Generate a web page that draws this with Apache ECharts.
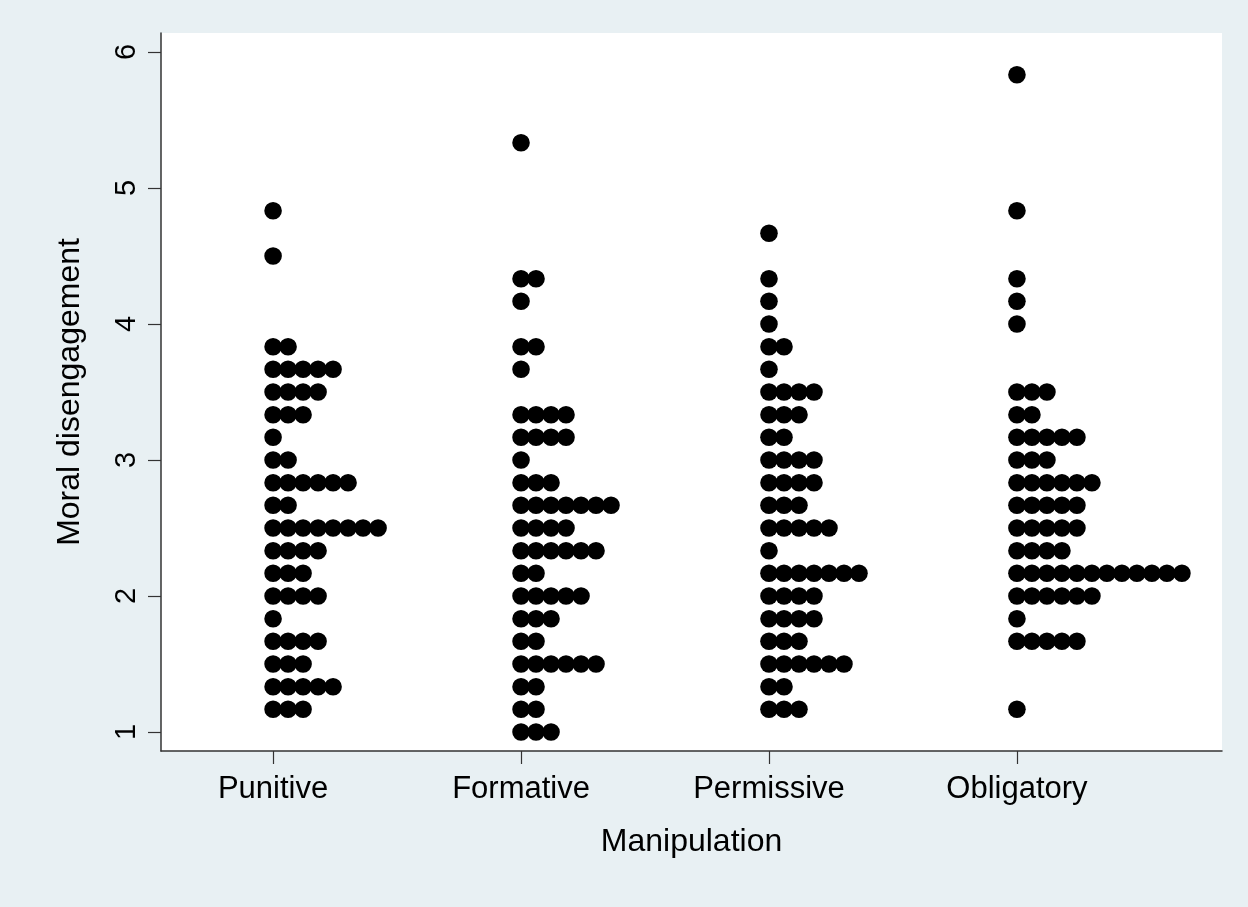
<!DOCTYPE html>
<html>
<head>
<meta charset="utf-8">
<script src="https://cdn.jsdelivr.net/npm/echarts@6/dist/echarts.min.js"></script>
<style>
  html, body { margin: 0; padding: 0; background: #e8f0f3; }
  #chart { width: 1248px; height: 907px; }
</style>
</head>
<body>
<div id="chart"></div>
<script>
// Group labels along the x axis
const categories = ['Punitive', 'Formative', 'Permissive', 'Obligatory'];

// Each pair: [moral disengagement score, number of respondents at that score]
const punitive = [
  [4.833, 1], [4.5, 1], [3.833, 2], [3.667, 5], [3.5, 4], [3.333, 3],
  [3.167, 1], [3.0, 2], [2.833, 6], [2.667, 2], [2.5, 8], [2.333, 4],
  [2.167, 3], [2.0, 4], [1.833, 1], [1.667, 4], [1.5, 3], [1.333, 5], [1.167, 3]
];
const formative = [
  [5.333, 1], [4.333, 2], [4.167, 1], [3.833, 2], [3.667, 1], [3.333, 4],
  [3.167, 4], [3.0, 1], [2.833, 3], [2.667, 7], [2.5, 4], [2.333, 6],
  [2.167, 2], [2.0, 5], [1.833, 3], [1.667, 2], [1.5, 6], [1.333, 2], [1.167, 2], [1.0, 3]
];
const permissive = [
  [4.667, 1], [4.333, 1], [4.167, 1], [4.0, 1], [3.833, 2], [3.667, 1],
  [3.5, 4], [3.333, 3], [3.167, 2], [3.0, 4], [2.833, 4], [2.667, 3],
  [2.5, 5], [2.333, 1], [2.167, 7], [2.0, 4], [1.833, 4], [1.667, 3],
  [1.5, 6], [1.333, 2], [1.167, 3]
];
const obligatory = [
  [5.833, 1], [4.833, 1], [4.333, 1], [4.167, 1], [4.0, 1], [3.5, 3],
  [3.333, 2], [3.167, 5], [3.0, 3], [2.833, 6], [2.667, 5], [2.5, 5],
  [2.333, 4], [2.167, 12], [2.0, 6], [1.833, 1], [1.667, 5], [1.167, 1]
];

const yTicks = [1, 2, 3, 4, 5, 6];
const xTicks = [1, 2, 3, 4];

const groups = [punitive, formative, permissive, obligatory];

// One item per respondent: [group position, score, index within its row]
const dots = [];
groups.forEach((rows, gi) => {
  rows.forEach(([score, n]) => {
    for (let k = 0; k < n; k++) dots.push([gi + 1, score, k]);
  });
});

const DOT_STEP = 15;   // horizontal pixel spacing between stacked dots
const DOT_R = 8.8;     // dot radius in pixels
const FONT = 'Liberation Sans, Arial, sans-serif';

const chart = echarts.init(document.getElementById('chart'));
chart.setOption({
  backgroundColor: '#e8f0f3',
  animation: false,
  textStyle: { fontFamily: FONT, color: '#000' },
  grid: {
    left: 161, right: 26, top: 33, bottom: 156,
    show: true, backgroundColor: '#ffffff', borderWidth: 0
  },
  xAxis: {
    type: 'value',
    min: 0.548, max: 4.827,
    name: 'Manipulation',
    nameLocation: 'middle',
    nameGap: 75,
    nameTextStyle: { fontSize: 32, color: '#000', fontFamily: FONT },
    axisLine: { show: true, lineStyle: { color: '#333', width: 1.5 } },
    axisTick: { show: true, length: 13, customValues: xTicks, lineStyle: { color: '#333', width: 1.2 } },
    axisLabel: {
      customValues: xTicks,
      formatter: v => categories[Math.round(v) - 1],
      fontSize: 31, color: '#000', margin: 23,
      fontFamily: FONT
    },
    splitLine: { show: false }
  },
  yAxis: {
    type: 'value',
    min: 0.86, max: 6.14,
    name: 'Moral disengagement',
    nameLocation: 'middle',
    nameRotate: 90,
    nameGap: 75,
    nameTextStyle: { fontSize: 32, color: '#000', fontFamily: FONT },
    axisLine: { show: true, lineStyle: { color: '#333', width: 1.5 } },
    axisTick: { show: true, length: 13, customValues: yTicks, lineStyle: { color: '#333', width: 1.2 } },
    axisLabel: {
      customValues: yTicks,
      rotate: 90,
      fontSize: 29, color: '#000', margin: 20,
      fontFamily: FONT
    },
    splitLine: { show: false }
  },
  series: [{
    type: 'custom',
    data: dots,
    renderItem: (params, api) => {
      const p = api.coord([api.value(0), api.value(1)]);
      return {
        type: 'circle',
        shape: { cx: p[0] + api.value(2) * DOT_STEP, cy: p[1], r: DOT_R },
        style: { fill: '#000' }
      };
    }
  }]
});
</script>
</body>
</html>
